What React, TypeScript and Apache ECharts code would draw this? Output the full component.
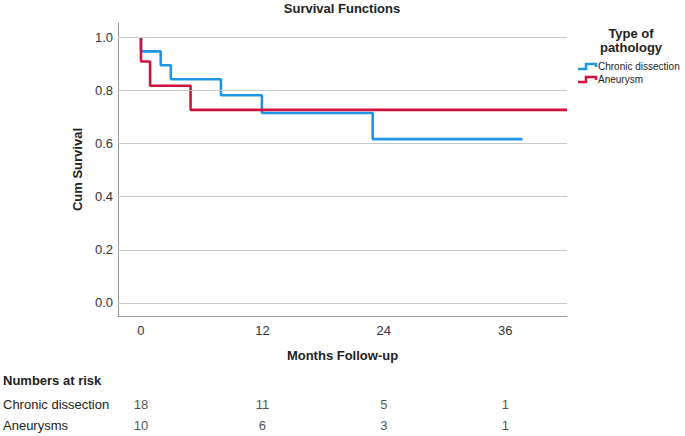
import React, { useEffect, useRef } from "react";
import * as echarts from "echarts";

const chronicMonths = [0, 0, 1.95, 2.95, 7.9, 11.95, 22.9, 37.7];
const chronicSurvival = [1.0, 0.947, 0.895, 0.842, 0.782, 0.715, 0.617, 0.617];
const aneurysmMonths = [0, 0, 0.9, 4.9, 42.1];
const aneurysmSurvival = [1.0, 0.909, 0.818, 0.727, 0.727];
const xTicks = [0, 12, 24, 36];
const yTicks = [0, 0.2, 0.4, 0.6, 0.8, 1.0];
const riskMonths = [0, 12, 24, 36];
const riskChronic = [18, 11, 5, 1];
const riskAneurysm = [10, 6, 3, 1];
const riskRows = ["Chronic dissection", "Aneurysms"];

const BLUE = "#1e96e6";
const RED = "#d4103f";
const SANS = "'Liberation Sans', Arial, sans-serif";

export default function App() {
  const ref = useRef<HTMLDivElement>(null);
  useEffect(() => {
    if (!ref.current) return;
    const chart = echarts.init(ref.current, null, { renderer: "svg" });
    const riskData: any[] = [];
    riskMonths.forEach((m, i) => {
      riskData.push([m, riskRows[0], riskChronic[i]]);
      riskData.push([m, riskRows[1], riskAneurysm[i]]);
    });
    const icon = (y: number, color: string) => ({
      type: "polyline",
      shape: { points: [[578, y + 3], [586, y + 3], [586, y - 2], [596, y - 2], [596, y + 1]] },
      style: { stroke: color, lineWidth: 2.5, fill: "none" },
    });
    chart.setOption({
      animation: false,
      backgroundColor: "#fff",
      title: [
        {
          text: "Survival Functions",
          left: 342,
          textAlign: "center",
          top: 2,
          padding: 0,
          textStyle: { fontFamily: SANS, fontSize: 13, fontWeight: "bold", color: "#222" },
        },
        {
          text: "Numbers at risk",
          left: 3,
          top: 374,
          padding: 0,
          textStyle: { fontFamily: SANS, fontSize: 13, fontWeight: "bold", color: "#222" },
        },
      ],
      grid: [
        { left: 118, right: 118, top: 23, height: 293 },
        { left: 118, right: 118, top: 394, height: 43 },
      ],
      xAxis: [
        {
          type: "value",
          gridIndex: 0,
          min: -2.27,
          max: 42.1,
          name: "Months Follow-up",
          nameLocation: "middle",
          nameGap: 33,
          nameTextStyle: { fontFamily: SANS, fontSize: 13, fontWeight: "bold", color: "#222" },
          axisLine: { show: true, onZero: false, lineStyle: { color: "#999", width: 1 } },
          axisTick: { show: false },
          splitLine: { show: false },
          axisLabel: {
            customValues: xTicks,
            margin: 8,
            fontFamily: SANS,
            fontSize: 13,
            color: "#333",
          },
        },
        {
          type: "value",
          gridIndex: 1,
          min: -2.27,
          max: 42.1,
          show: false,
        },
      ],
      yAxis: [
        {
          type: "value",
          gridIndex: 0,
          min: -0.049,
          max: 1.054,
          name: "Cum Survival",
          nameLocation: "middle",
          nameGap: 33,
          nameRotate: 90,
          nameTextStyle: { fontFamily: SANS, fontSize: 13, fontWeight: "bold", color: "#222" },
          axisLine: { show: true, onZero: false, lineStyle: { color: "#999", width: 1 } },
          axisTick: { show: false },
          splitLine: { show: false },
          axisLabel: {
            customValues: yTicks,
            formatter: (v: number) => v.toFixed(1),
            margin: 5,
            fontFamily: SANS,
            fontSize: 13,
            color: "#333",
          },
        },
        {
          type: "category",
          gridIndex: 1,
          data: riskRows,
          inverse: true,
          axisLine: { show: false },
          axisTick: { show: false },
          splitLine: { show: false },
          axisLabel: {
            align: "left",
            margin: 115,
            fontFamily: SANS,
            fontSize: 13,
            color: "#222",
          },
        },
      ],
      series: [
        {
          type: "line",
          xAxisIndex: 0,
          yAxisIndex: 0,
          data: [],
          silent: true,
          z: 1,
          markLine: {
            silent: true,
            symbol: ["none", "none"],
            label: { show: false },
            lineStyle: { color: "#cacaca", width: 1, type: "solid" },
            data: yTicks.map((v) => ({ yAxis: v })),
          },
        },
        {
          name: "Chronic dissection",
          type: "line",
          step: "end",
          xAxisIndex: 0,
          yAxisIndex: 0,
          showSymbol: false,
          symbol: "none",
          z: 3,
          lineStyle: { color: BLUE, width: 2.6 },
          itemStyle: { color: BLUE },
          data: chronicMonths.map((m, i) => [m, chronicSurvival[i]]),
        },
        {
          name: "Aneurysm",
          type: "line",
          step: "end",
          xAxisIndex: 0,
          yAxisIndex: 0,
          showSymbol: false,
          symbol: "none",
          z: 4,
          lineStyle: { color: RED, width: 2.6 },
          itemStyle: { color: RED },
          data: aneurysmMonths.map((m, i) => [m, aneurysmSurvival[i]]),
        },
        {
          type: "scatter",
          xAxisIndex: 1,
          yAxisIndex: 1,
          symbolSize: 1,
          itemStyle: { color: "rgba(0,0,0,0)" },
          silent: true,
          label: {
            show: true,
            position: "inside",
            formatter: (p: any) => String(p.value[2]),
            fontFamily: SANS,
            fontSize: 13,
            color: "#222",
          },
          data: riskData,
        },
      ],
      graphic: [
        {
          type: "text",
          x: 631,
          y: 26,
          style: {
            text: "Type of\npathology",
            align: "center",
            fontFamily: SANS,
            fontSize: 13,
            fontWeight: "bold",
            fill: "#222",
            lineHeight: 14,
          },
        },
        icon(66, BLUE),
        icon(79, RED),
        {
          type: "text",
          x: 598,
          y: 66,
          style: { text: "Chronic dissection", fontFamily: SANS, fontSize: 10, fill: "#222", verticalAlign: "middle" },
        },
        {
          type: "text",
          x: 598,
          y: 79,
          style: { text: "Aneurysm", fontFamily: SANS, fontSize: 10, fill: "#222", verticalAlign: "middle" },
        },
      ],
    });
    return () => chart.dispose();
  }, []);
  return <div ref={ref} style={{ width: 685, height: 436, position: "absolute", left: 0, top: 0 }} />;
}
